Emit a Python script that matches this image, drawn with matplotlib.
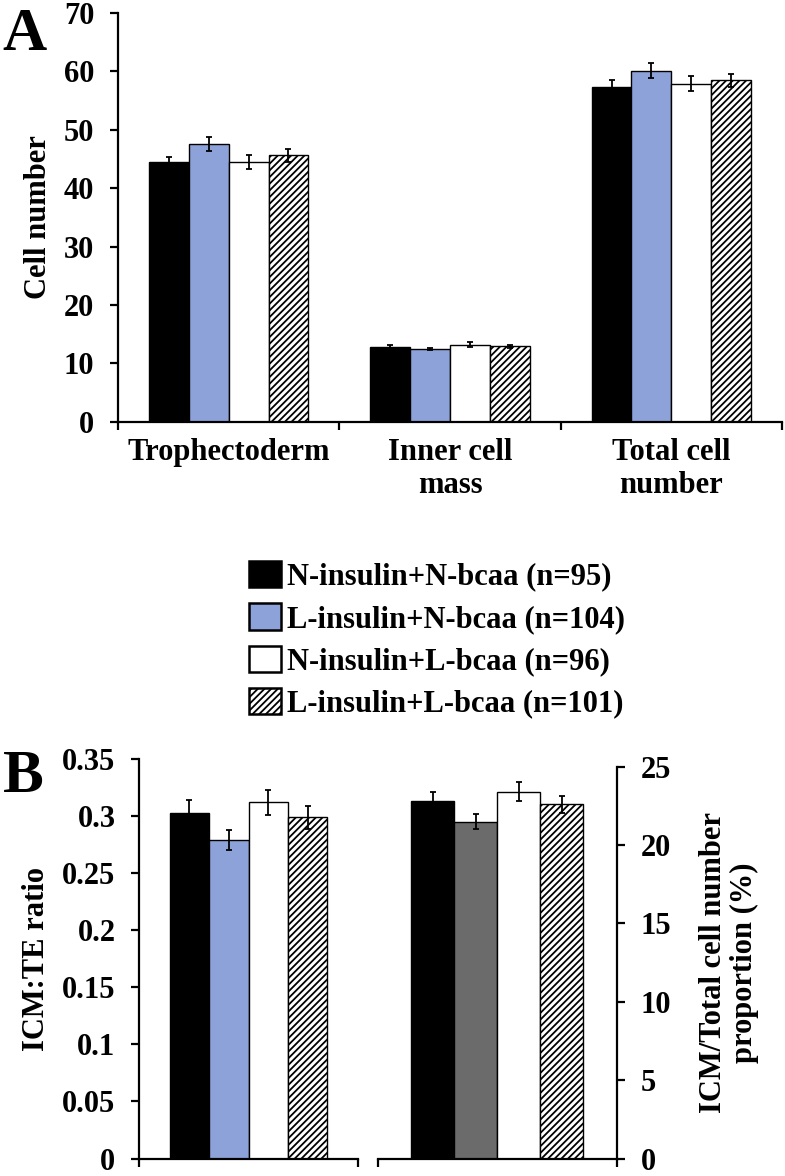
import matplotlib
matplotlib.use('Agg')
import matplotlib.pyplot as plt
import numpy as np
from matplotlib.patches import Patch

plt.rcParams['font.family'] = ['Liberation Serif', 'DejaVu Serif']
plt.rcParams['font.weight'] = 'bold'
plt.rcParams['axes.labelweight'] = 'bold'
plt.rcParams['hatch.linewidth'] = 1.3
plt.rcParams['hatch.color'] = 'black'

# ---------------- data ----------------
group_labels = ['N-insulin+N-bcaa (n=95)', 'L-insulin+N-bcaa (n=104)',
                'N-insulin+L-bcaa (n=96)', 'L-insulin+L-bcaa (n=101)']
categories = ['Trophectoderm', 'Inner cell\nmass', 'Total cell\nnumber']

te_mean = [44.4, 47.5, 44.5, 45.6]
te_err = [1.0, 1.2, 1.2, 1.1]
icm_mean = [12.8, 12.5, 13.2, 12.9]
icm_err = [0.4, 0.2, 0.4, 0.3]
total_mean = [57.4, 60.1, 57.9, 58.5]
total_err = [1.15, 1.3, 1.3, 1.1]

ratio_mean = [0.303, 0.279, 0.312, 0.299]
ratio_err = [0.011, 0.009, 0.011, 0.010]
prop_mean = [22.8, 21.5, 23.4, 22.6]
prop_err = [0.6, 0.5, 0.6, 0.55]

a_yticks = [0, 10, 20, 30, 40, 50, 60, 70]
b_left_yticks = [0, 0.05, 0.1, 0.15, 0.2, 0.25, 0.3, 0.35]
b_left_ticklabels = ['0', '0.05', '0.1', '0.15', '0.2', '0.25', '0.3', '0.35']
b_right_yticks = [0, 5, 10, 15, 20, 25]

# ---------------- style ----------------
BLUE = '#8DA2D9'
GRAY = '#6B6B6B'
colors_a = ['black', BLUE, 'white', 'white']
colors_b2 = ['black', GRAY, 'white', 'white']
hatches = [None, None, None, '/////']
bar_w = 0.18
offsets = (np.arange(4) - 1.5) * bar_w
SP_LW = 1.6
TICK_FS = 22
LAB_FS = 22

W, H = 785, 1176
fig = plt.figure(figsize=(W / 100, H / 100), dpi=100)


def frac(x0, y_top, x1, y_bot):
    return [x0 / W, 1 - y_bot / H, (x1 - x0) / W, (y_bot - y_top) / H]


def style_axes(ax, side='left'):
    for s in ['top', 'right', 'left', 'bottom']:
        ax.spines[s].set_visible(False)
    ax.spines['bottom'].set_visible(True)
    ax.spines[side].set_visible(True)
    for s in ax.spines.values():
        s.set_linewidth(SP_LW)
    ax.tick_params(axis='y', which='major', length=6, width=SP_LW,
                   labelsize=TICK_FS, pad=11, direction='out')
    ax.tick_params(axis='x', which='major', length=0, labelsize=LAB_FS, pad=12)
    ax.tick_params(axis='x', which='minor', length=6, width=SP_LW, direction='out')


def draw_bars(ax, xc, means, errs, colors):
    for i in range(4):
        ax.bar(xc + offsets[i], means[i], width=bar_w, color=colors[i],
               edgecolor='black', linewidth=1.0, hatch=hatches[i], zorder=2)
        ax.errorbar(xc + offsets[i], means[i], yerr=errs[i], fmt='none',
                    ecolor='black', elinewidth=1.3, capsize=2.3, capthick=1.3,
                    zorder=3)


# ---------------- Panel A ----------------
axA = fig.add_axes(frac(118, 13, 782, 421.7))
style_axes(axA, 'left')
x = np.arange(3)
for i in range(4):
    vals = [te_mean[i], icm_mean[i], total_mean[i]]
    errs = [te_err[i], icm_err[i], total_err[i]]
    axA.bar(x + offsets[i], vals, width=bar_w, color=colors_a[i],
            edgecolor='black', linewidth=1.0, hatch=hatches[i], zorder=2,
            label=group_labels[i])
    axA.errorbar(x + offsets[i], vals, yerr=errs, fmt='none', ecolor='black',
                 elinewidth=1.3, capsize=2.3, capthick=1.3, zorder=3)
axA.set_xlim(-0.5, 2.5)
axA.set_ylim(0, 70)
axA.set_yticks(a_yticks)
axA.set_xticks(x)
axA.set_xticklabels(categories, fontsize=LAB_FS, linespacing=1.15)
axA.set_xticks([-0.5, 0.5, 1.5, 2.5], minor=True)
axA.set_ylabel('Cell number', fontsize=LAB_FS, labelpad=8)

fig.text(2 / W, 1 - 7 / H, 'A', fontsize=44, va='top', ha='left')

# ---------------- Legend ----------------
handles = [Patch(facecolor=colors_a[i], edgecolor='black', linewidth=1.8,
                 hatch=hatches[i]) for i in range(4)]
fig.legend(handles, group_labels, loc='upper left',
           bbox_to_anchor=(249 / W, 1 - 561 / H), frameon=False,
           fontsize=22, handlelength=1.05, handleheight=0.95,
           handletextpad=0.2, labelspacing=0.38, borderpad=0, borderaxespad=0)

B_BOTTOM = 1158.5

# ---------------- Panel B left ----------------
axB1 = fig.add_axes(frac(139, 759, 358, B_BOTTOM))
style_axes(axB1, 'left')
draw_bars(axB1, 0.0, ratio_mean, ratio_err, colors_a)
axB1.set_xlim(-0.5, 0.5)
axB1.set_ylim(0, 0.35)
axB1.set_yticks(b_left_yticks)
axB1.set_yticklabels(b_left_ticklabels)
axB1.set_xticks([])
axB1.set_xticks([-0.5, 0.5], minor=True)
axB1.set_ylabel('ICM:TE ratio', fontsize=LAB_FS, labelpad=8)

# ---------------- Panel B right ----------------
axB2 = fig.add_axes(frac(377.7, 766.7, 617, B_BOTTOM))
style_axes(axB2, 'right')
axB2.yaxis.tick_right()
axB2.yaxis.set_label_position('right')
axB2.tick_params(axis='y', which='major', length=6, width=SP_LW,
                 labelsize=TICK_FS, pad=11, direction='out')
draw_bars(axB2, 0.0, prop_mean, prop_err, colors_b2)
axB2.set_xlim(-0.5, 0.5)
axB2.set_ylim(0, 25)
axB2.set_yticks(b_right_yticks)
axB2.set_xticks([])
axB2.set_xticks([-0.5, 0.5], minor=True)
axB2.set_ylabel('ICM/Total cell number\nproportion (%)', fontsize=LAB_FS,
                labelpad=20, linespacing=1.1)

fig.text(3 / W, 1 - 749 / H, 'B', fontsize=44, va='top', ha='left')

fig.savefig('out.png', dpi=100)
